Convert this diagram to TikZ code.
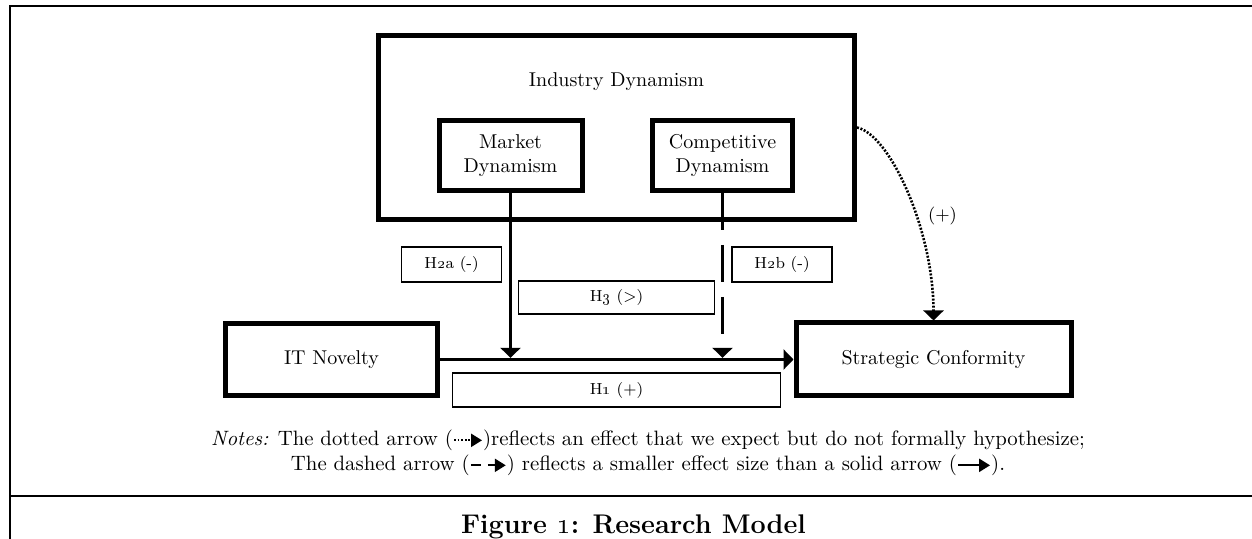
\documentclass[tikz,border=0pt]{standalone}
\usepackage{tikz}
\usetikzlibrary{arrows.meta,positioning}
\tikzset{>/.tip={Triangle[length=5pt,width=10pt]}}
\tikzset{construct/.style={draw,line width=2.5pt,inner sep=0pt,align=center}}
\tikzset{hyp/.style={draw,line width=0.6pt,inner sep=0pt,font=\footnotesize}}
\newcommand\keyarrow[2]{\tikz[baseline=-0.6ex]\draw[line width=1.1pt,#1,-{Triangle[length=5.5pt,width=6.5pt]}] (0pt,0pt) -- (#2,0pt);}

\begin{document}
\begin{tikzpicture}[x=0.5pt,y=-0.5pt,on grid]
  \useasboundingbox (0,0) rectangle (1252,539);
  % frame
  \draw[line width=1.1pt] (1260,6) -- (10,6) -- (10,545) (10,496) -- (1260,496);

  \node[construct,minimum width=106pt,minimum height=36pt] (itn) at (331.5,359.5) {IT Novelty};
  \node[construct,minimum width=137.5pt,minimum height=36.5pt,right=301pt of itn] (str) {Strategic Conformity};
  \node[construct,minimum width=71.5pt,minimum height=35pt,above right=102pt and 89.5pt of itn] (mkt) {Market\\Dynamism};
  \node[construct,minimum width=70pt,minimum height=35pt,right=106pt of mkt] (cmp) {Competitive\\Dynamism};
  \node[construct,minimum width=238pt,minimum height=92pt,above right=14pt and 53pt of mkt] (ind) {};
  \node[above=23pt of ind] (indlbl) {Industry Dynamism};

  % hypotheses
  \node[hyp,minimum width=50pt,minimum height=17.5pt,below left=54.5pt and 29.5pt of mkt] (h2a) {H\oldstylenums{2}a (-)};
  \node[hyp,minimum width=50pt,minimum height=17.5pt,below right=54.5pt and 29.75pt of cmp] (h2b) {H\oldstylenums{2}b (-)};
  \node[hyp,minimum width=98pt,minimum height=16.5pt,below=85pt of ind] (h3) {H\oldstylenums{3} (>)};
  \node[hyp,minimum width=164pt,minimum height=17pt,below=46.25pt of h3] (h1) {H\oldstylenums{1} (+)};

  \draw[->,line width=1.7pt] (itn) -- (str);
  \draw[->,line width=1.7pt,shorten >=0.85pt] (mkt) -- (mkt |- itn.east);
  \draw[->,line width=1.7pt,shorten >=0.85pt,dash pattern=on 18.5pt off 7.5pt] (cmp) -- (cmp |- itn.east);
  \draw[->,line width=1.3pt,dash pattern=on 1pt off 0.8pt] (ind.east) .. controls +(33,7) and +(0,-90) .. (str.north)
    node[pos=0.6,right,xshift=2pt,font=\small] (plus) {(+)};

  \node[align=center,font=\fontsize{10.4}{12.5}\selectfont] (notes) at (648,453) {\textit{Notes:} The dotted arrow (\keyarrow{dash pattern=on 0.9pt off 0.9pt}{14pt})reflects an effect that we expect but do not formally hypothesize;\\
    The dashed arrow (\keyarrow{dash pattern=on 5pt off 3.5pt}{17.5pt}) reflects a smaller effect size than a solid arrow (\keyarrow{solid}{16pt}).};
  \node[anchor=base,font=\fontsize{13.5}{16}\selectfont\bfseries] (title) at (633.5,533) {Figure \oldstylenums{1}: Research Model};
\end{tikzpicture}
\end{document}
